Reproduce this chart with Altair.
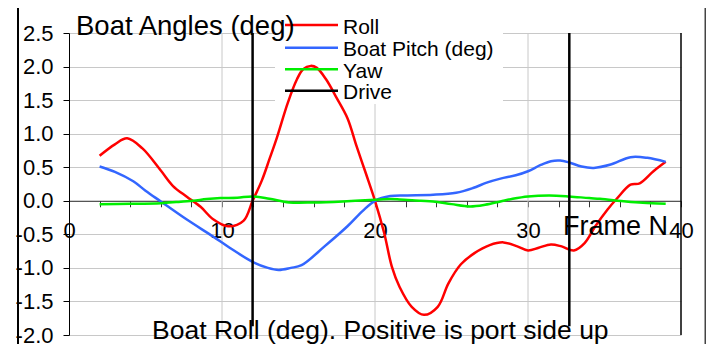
import altair as alt
import pandas as pd

# ---------------- data ----------------
roll_x = [2.0, 3.0, 3.8, 4.8, 6.0, 6.8, 7.7, 8.6, 9.4, 10.4, 11.4, 12.0, 12.6, 13.1, 13.6,
          14.3, 14.9, 15.3, 15.8, 16.2, 16.8, 17.5, 18.2, 18.8, 19.4, 20.0, 20.6, 21.1,
          21.6, 22.4, 23.2, 24.1, 24.8, 25.6, 26.5, 27.5, 28.4, 29.3, 30.0, 30.7, 31.5,
          32.2, 33.0, 33.7, 34.4, 35.2, 35.8, 36.7, 37.3, 38.2, 39.0]
roll_y = [0.67, 0.84, 0.93, 0.78, 0.45, 0.22, 0.06, -0.09, -0.27, -0.38, -0.30, 0.0, 0.30,
          0.62, 0.95, 1.46, 1.81, 1.96, 2.01, 1.98, 1.81, 1.53, 1.23, 0.81, 0.41, 0.0,
          -0.48, -0.98, -1.28, -1.58, -1.70, -1.58, -1.23, -0.95, -0.78, -0.66, -0.62,
          -0.68, -0.74, -0.70, -0.65, -0.68, -0.74, -0.63, -0.38, -0.13, 0.03, 0.24,
          0.26, 0.44, 0.58]

pitch_x = [2.0, 3.0, 4.2, 5.0, 6.0, 7.7, 9.4, 10.5, 12.0, 13.0, 13.7, 14.5, 15.2, 16.7,
           18.2, 19.2, 20.0, 21.0, 22.0, 23.8, 25.3, 26.4, 27.3, 28.2, 29.2, 30.0, 30.8,
           31.5, 32.1, 32.7, 33.5, 34.3, 35.4, 36.7, 37.8, 39.0]
pitch_y = [0.51, 0.43, 0.29, 0.15, -0.01, -0.28, -0.53, -0.70, -0.91, -1.00, -1.03, -1.00,
           -0.96, -0.68, -0.38, -0.15, 0.0, 0.07, 0.08, 0.09, 0.12, 0.19, 0.27, 0.33, 0.38,
           0.44, 0.53, 0.59, 0.60, 0.57, 0.51, 0.49, 0.54, 0.65, 0.64, 0.58]

yaw_x = [2.0, 4.0, 6.0, 7.0, 8.1, 9.0, 9.9, 11.0, 12.0, 13.1, 14.4, 16.0, 17.9, 20.0, 21.0,
         21.6, 23.0, 23.8, 25.0, 26.2, 27.2, 28.2, 29.0, 30.0, 31.4, 32.7, 34.0, 34.7,
         36.4, 37.5, 39.0]
yaw_y = [-0.05, -0.045, -0.035, -0.02, 0.0, 0.025, 0.04, 0.045, 0.065, 0.03, -0.025,
         -0.025, -0.01, 0.015, 0.025, 0.02, 0.0, -0.01, -0.05, -0.085, -0.06, -0.01, 0.03,
         0.065, 0.08, 0.065, 0.04, 0.03, -0.01, -0.03, -0.045]

drive_x = [12.0, 32.7]
drive_top = [2.5, 2.5]
drive_bottom = [-1.87, -1.87]

grid_x = [10, 20, 30]
border_x = [40]

series_names = ["Roll", "Boat Pitch (deg)", "Yaw", "Drive"]
series_colors = ["#ff0000", "#3366ff", "#00ee00", "#000000"]

y_ticks = [-2.0, -1.5, -1.0, -0.5, 0.0, 0.5, 1.0, 1.5, 2.0, 2.5]
x_ticks = list(range(0, 41, 2))

title_text = "Boat Angles (deg)"
caption_text = "Boat Roll (deg). Positive is port side up"
xtitle_text = "Frame N"

# ---------------- layout ----------------
FONT = "Liberation Sans"
W, H = 612, 302
Y_MIN, Y_MAX = -2.0, 2.5
zero_offset = -(H - H * (Y_MAX - 0) / (Y_MAX - Y_MIN))

x_scale = alt.Scale(domain=[0, 40], nice=False, zero=False)
y_scale = alt.Scale(domain=[Y_MIN, Y_MAX], nice=False, zero=False)

x_axis = alt.Axis(values=x_ticks, labelExpr="datum.value % 10 === 0 ? datum.label : ''",
                  offset=zero_offset, grid=False, tickSize=6, tickColor="#333333",
                  domainColor="#333333", domainWidth=1, labelPadding=31,
                  labelBaseline="alphabetic", labelFontSize=22, labelFont=FONT,
                  labelColor="black", labelOverlap=False, labelFlush=False, title=None)
y_axis = alt.Axis(values=y_ticks, format=".1f", labelExpr="replace(datum.label, '\u2212', '-')",
                  grid=True, gridColor="#c8c8c8", gridWidth=1, tickSize=6, tickColor="black",
                  domainColor="black", domainWidth=1, labelPadding=10, labelFontSize=22,
                  labelFont=FONT, labelColor="black", labelOverlap=False, labelFlush=False,
                  title=None)

X = lambda: alt.X("frame:Q", scale=x_scale, axis=x_axis)
Y = lambda: alt.Y("value:Q", scale=y_scale, axis=y_axis)

lines_df = pd.concat([
    pd.DataFrame({"frame": roll_x, "value": roll_y, "series": "Roll"}),
    pd.DataFrame({"frame": pitch_x, "value": pitch_y, "series": "Boat Pitch (deg)"}),
    pd.DataFrame({"frame": yaw_x, "value": yaw_y, "series": "Yaw"}),
], ignore_index=True)

grid_df = pd.DataFrame({"frame": grid_x, "value": [Y_MAX] * len(grid_x), "value2": [Y_MIN] * len(grid_x)})
border_df = pd.DataFrame({"frame": border_x, "value": [Y_MAX], "value2": [Y_MIN]})
drive_df = pd.DataFrame({"frame": drive_x, "value": drive_top, "value2": drive_bottom})
one = pd.DataFrame({"k": [0]})

grid = alt.Chart(grid_df).mark_rule(color="#c8c8c8", strokeWidth=1).encode(
    x=X(), y=Y(), y2="value2:Q")

box = alt.Chart(one).mark_rect(color="white").encode(
    x=alt.value(206), x2=alt.value(434), y=alt.value(-25), y2=alt.value(71))

lines = alt.Chart(lines_df).mark_line(strokeWidth=2.5, interpolate="catmull-rom").encode(
    x=X(), y=Y(),
    color=alt.Color("series:N", scale=alt.Scale(domain=series_names, range=series_colors), legend=None),
)

drive = alt.Chart(drive_df).mark_rule(color="black", strokeWidth=2.5).encode(
    x=X(), y=Y(), y2="value2:Q")

border = alt.Chart(border_df).mark_rule(color="black", strokeWidth=1.5).encode(
    x=X(), y=Y(), y2="value2:Q")

legend_layers = []
row_y = [-8, 14.7, 36.3, 57.7]
for i, (name, col) in enumerate(zip(series_names, series_colors)):
    legend_layers.append(
        alt.Chart(one).mark_rule(color=col, strokeWidth=2.5).encode(
            x=alt.value(216), x2=alt.value(269), y=alt.value(row_y[i]))
    )
    legend_layers.append(
        alt.Chart(pd.DataFrame({"t": [name]})).mark_text(
            align="left", baseline="middle", fontSize=21, font=FONT, color="black").encode(
            x=alt.value(274), y=alt.value(row_y[i] + 2.5), text="t:N")
    )

title = alt.Chart(pd.DataFrame({"t": [title_text]})).mark_text(
    align="left", baseline="alphabetic", fontSize=27.5, font=FONT, color="black").encode(
    x=alt.value(7), y=alt.value(2), text="t:N")
caption = alt.Chart(pd.DataFrame({"t": [caption_text]})).mark_text(
    align="left", baseline="alphabetic", fontSize=26.5, font=FONT, color="black").encode(
    x=alt.value(83), y=alt.value(306), text="t:N")
xtitle = alt.Chart(pd.DataFrame({"t": [xtitle_text]})).mark_text(
    align="left", baseline="alphabetic", fontSize=27, font=FONT, color="black").encode(
    x=alt.value(494), y=alt.value(202), text="t:N")

frame_left = alt.Chart(one).mark_rect(color="black").encode(
    x=alt.value(-52), x2=alt.value(-50), y=alt.value(-26), y2=alt.value(312))
frame_right = alt.Chart(one).mark_rect(color="#444444").encode(
    x=alt.value(635.5), x2=alt.value(637.5), y=alt.value(-26), y2=alt.value(312))

chart = alt.layer(
    grid, box, lines, drive, border, *legend_layers, title, caption, xtitle,
    frame_left, frame_right,
).properties(
    width=W, height=H,
    padding={"left": 61, "top": 25, "right": 25, "bottom": 9},
    autosize=alt.AutoSizeParams(type="none"),
).configure_view(stroke=None)

chart.save("out.html", embed_options={"renderer": "svg", "actions": False})
